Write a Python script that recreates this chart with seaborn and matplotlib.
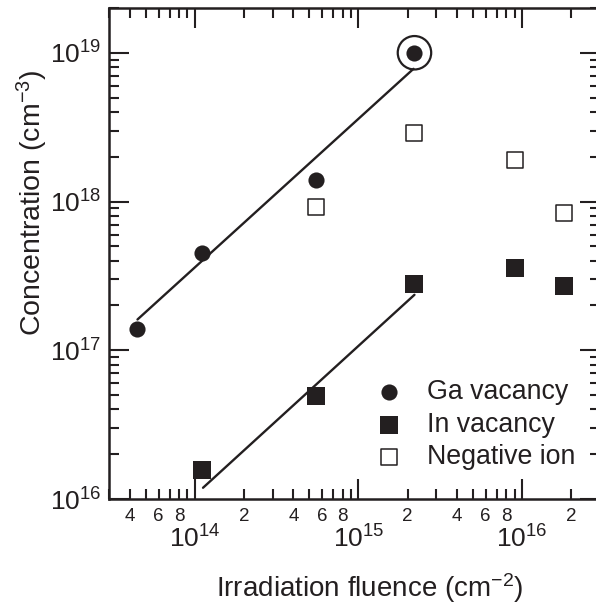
import numpy as np
import pandas as pd
import matplotlib
matplotlib.use("Agg")
import matplotlib.pyplot as plt
import seaborn as sns
from matplotlib.ticker import LogLocator, FuncFormatter, NullFormatter

# ---------------- data ----------------
ga_fluence = [4.45e13, 1.11e14, 5.5e14, 2.2e15]
ga_conc = [1.4e17, 4.5e17, 1.4e18, 1.0e19]

in_fluence = [1.1e14, 5.5e14, 2.2e15, 9.0e15, 1.8e16]
in_conc = [1.57e16, 4.9e16, 2.8e17, 3.6e17, 2.7e17]

neg_fluence = [5.5e14, 2.2e15, 9.0e15, 1.8e16]
neg_conc = [9.2e17, 2.9e18, 1.9e18, 8.4e17]

ga_fit_fluence = [4.45e13, 2.17e15]
ga_fit_conc = [1.61e17, 7.8e18]

in_fit_fluence = [1.12e14, 2.2e15]
in_fit_conc = [1.19e16, 2.36e17]

circled_fluence = [2.2e15]
circled_conc = [1.0e19]

series_labels = ["Ga vacancy", "In vacancy", "Negative ion"]
x_label = "Irradiation fluence (cm$^{-2}$)"
y_label = "Concentration (cm$^{-3}$)"

# ---------------- style ----------------
sns.set_style("ticks")
plt.rcParams['font.family'] = ['Liberation Sans', 'DejaVu Sans']
plt.rcParams['mathtext.fontset'] = 'custom'
plt.rcParams['mathtext.rm'] = 'Liberation Sans'
plt.rcParams['mathtext.it'] = 'Liberation Sans:italic'
plt.rcParams['mathtext.bf'] = 'Liberation Sans:bold'
INK = '#231f20'

fig = plt.figure(figsize=(5.96, 6.05), dpi=100)
ax = fig.add_axes([0.1837, 0.1752, 0.823, 0.8116])
ax.set_xscale('log')
ax.set_yscale('log')

ga_df = pd.DataFrame({"fluence": ga_fluence, "conc": ga_conc})
in_df = pd.DataFrame({"fluence": in_fluence, "conc": in_conc})
neg_df = pd.DataFrame({"fluence": neg_fluence, "conc": neg_conc})
gafit_df = pd.DataFrame({"fluence": ga_fit_fluence, "conc": ga_fit_conc})
infit_df = pd.DataFrame({"fluence": in_fit_fluence, "conc": in_fit_conc})
circ_df = pd.DataFrame({"fluence": circled_fluence, "conc": circled_conc})

sns.lineplot(data=gafit_df, x="fluence", y="conc", color=INK, lw=1.7, ax=ax,
             legend=False, zorder=3)
sns.lineplot(data=infit_df, x="fluence", y="conc", color=INK, lw=1.7, ax=ax,
             legend=False, zorder=3)

sns.scatterplot(data=circ_df, x="fluence", y="conc", marker='o', s=580,
                facecolors='none', edgecolor=INK, linewidth=1.6, ax=ax,
                legend=False, zorder=2)
sns.scatterplot(data=ga_df, x="fluence", y="conc", marker='o', s=135,
                color=INK, edgecolor=INK, linewidth=0, ax=ax,
                label=series_labels[0], zorder=4)
sns.scatterplot(data=in_df, x="fluence", y="conc", marker='s', s=150,
                color=INK, edgecolor=INK, linewidth=0, ax=ax,
                label=series_labels[1], zorder=4)
sns.scatterplot(data=neg_df, x="fluence", y="conc", marker='s', s=140,
                color='white', edgecolor=INK, linewidth=1.1, ax=ax,
                label=series_labels[2], zorder=4)

ax.set_xlim(3e13, 3e16)
ax.set_ylim(1e16, 2e19)

# ---------------- ticks ----------------
ax.xaxis.set_major_locator(LogLocator(base=10, numticks=10))
ax.xaxis.set_minor_locator(LogLocator(base=10, subs=np.arange(2, 10), numticks=20))
ax.yaxis.set_major_locator(LogLocator(base=10, numticks=10))
ax.yaxis.set_minor_locator(LogLocator(base=10, subs=np.arange(2, 10), numticks=20))

def major_fmt(v, pos):
    e = int(round(np.log10(v)))
    return r"$10^{%d}$" % e

def minor_fmt(v, pos):
    e = np.floor(np.log10(v) + 1e-9)
    d = int(round(v / 10 ** e))
    return str(d) if d in (2, 4, 6, 8) else ""

ax.xaxis.set_major_formatter(FuncFormatter(major_fmt))
ax.xaxis.set_minor_formatter(FuncFormatter(minor_fmt))
ax.yaxis.set_major_formatter(FuncFormatter(major_fmt))
ax.yaxis.set_minor_formatter(NullFormatter())

ax.tick_params(which='both', direction='in', top=True, right=True, color=INK, width=1.5)
ax.tick_params(which='major', length=14.4)
ax.tick_params(which='minor', length=7.2)
ax.tick_params(axis='x', which='major', labelsize=19, pad=19, labelcolor=INK)
ax.tick_params(axis='x', which='minor', labelsize=13.5, pad=6.5, labelcolor=INK)
ax.tick_params(axis='y', which='major', labelsize=19, pad=6, labelcolor=INK)

for s in ax.spines.values():
    s.set_linewidth(1.8)
    s.set_color(INK)

ax.set_xlabel(x_label, fontsize=20, color=INK)
ax.set_ylabel(y_label, fontsize=20.5, color=INK)
ax.xaxis.set_label_coords(0.531, -0.148)
ax.yaxis.set_label_coords(-0.122, 0.603)

# ---------------- legend ----------------
handles, labels = ax.get_legend_handles_labels()
leg = ax.legend(handles, labels, loc='upper left', bbox_to_anchor=(0.543, 0.244),
                frameon=False, fontsize=19.3, labelspacing=0.24, handletextpad=0.9,
                handlelength=1.0, borderaxespad=0, borderpad=0)
for t in leg.get_texts():
    t.set_color(INK)

fig.savefig("out.png", dpi=100)
